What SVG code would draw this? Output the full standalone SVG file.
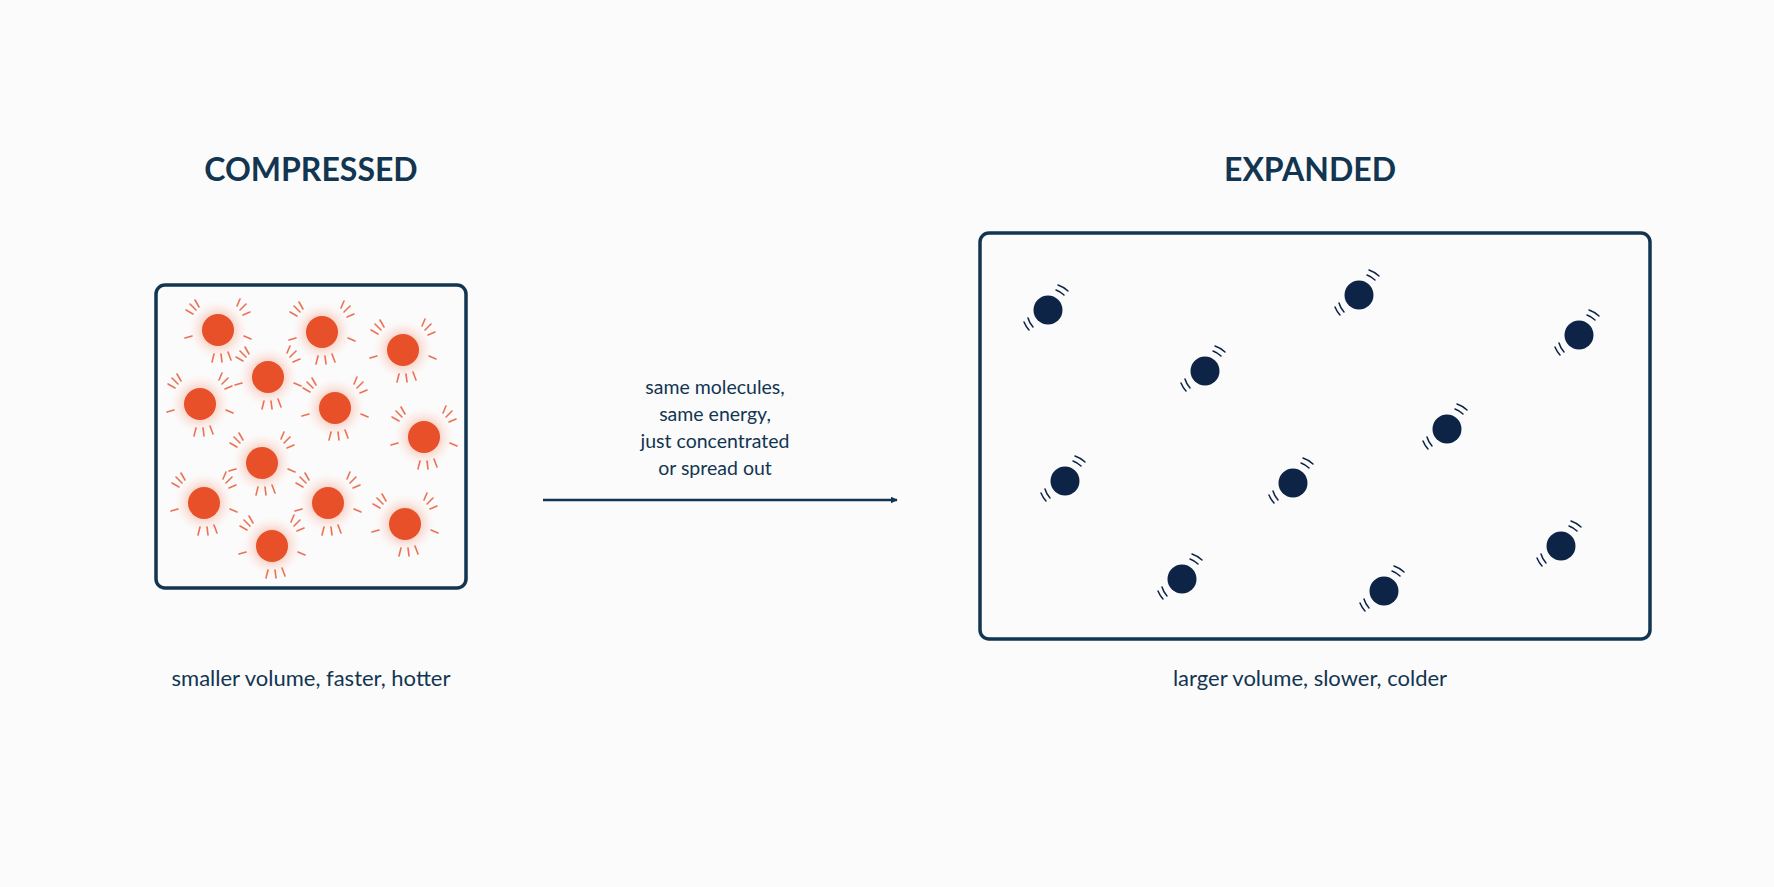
<svg xmlns="http://www.w3.org/2000/svg" xmlns:xlink="http://www.w3.org/1999/xlink" width="1774" height="887" viewBox="0 0 1774 887">
<style>
.t{font-family:"Lato","Liberation Sans",sans-serif;fill:#123552;text-anchor:middle}
.h{font-size:32px;font-weight:bold}
.s{font-size:22px}
.m{font-size:19.5px}
.box{fill:none;stroke:#123552;stroke-width:3.5}
.ray{stroke:#e8502a;stroke-width:1.6;stroke-linecap:round;opacity:.8}
.arc{fill:none;stroke:#0d2447;stroke-width:1.5;stroke-linecap:round}
</style>
<defs>
<radialGradient id="glow"><stop offset="0.45" stop-color="#f6b5a2" stop-opacity=".7"/><stop offset="1" stop-color="#fde9e3" stop-opacity="0"/></radialGradient>
<g id="red">
<circle r="30" fill="url(#glow)"/>
<g class="ray">
<line x1="-22" y1="-20" x2="-28" y2="-26"/><line x1="-19" y1="-23" x2="-23" y2="-30"/><line x1="-25" y1="-16" x2="-32" y2="-20"/>
<line x1="22" y1="-20" x2="28" y2="-26"/><line x1="25" y1="-15" x2="32" y2="-18"/><line x1="19" y1="-24" x2="22" y2="-31"/>
<line x1="-4" y1="24" x2="-6" y2="32"/><line x1="3" y1="24" x2="4" y2="32"/><line x1="10" y1="22" x2="13" y2="30"/>
<line x1="-26" y1="6" x2="-33" y2="8"/><line x1="26" y1="6" x2="33" y2="9"/>
</g>
<circle r="16" fill="#e8502a"/>
</g>
<g id="blue">
<circle r="14.5" fill="#0d2447"/>
<path class="arc" d="M8,-20 A22,22 0 0 1 16,-15 M10,-25 A27,27 0 0 1 20,-19 M-15,17 A22,22 0 0 1 -20,8 M-19,20 A27,27 0 0 1 -24,12"/>
</g>
<marker id="ah" viewBox="0 0 10 10" refX="9" refY="5" markerWidth="7" markerHeight="7" orient="auto" markerUnits="userSpaceOnUse"><path d="M0,0L10,5L0,10z" fill="#123552"/></marker>
</defs>
<rect width="1774" height="887" fill="#fbfbfb"/>
<g id="compressed">
<text class="t h" x="311" y="181">COMPRESSED</text>
<rect class="box" x="156" y="285" width="310" height="303" rx="9"/>
<use xlink:href="#red" x="218" y="330"/><use xlink:href="#red" x="322" y="332"/><use xlink:href="#red" x="403" y="350"/>
<use xlink:href="#red" x="268" y="377"/><use xlink:href="#red" x="200" y="404"/><use xlink:href="#red" x="335" y="408"/>
<use xlink:href="#red" x="424" y="437"/><use xlink:href="#red" x="262" y="463"/><use xlink:href="#red" x="204" y="503"/>
<use xlink:href="#red" x="328" y="503"/><use xlink:href="#red" x="405" y="524"/><use xlink:href="#red" x="272" y="546"/>
<text class="t s" x="311" y="686">smaller volume, faster, hotter</text>
</g>
<g id="expanded">
<text class="t h" x="1310" y="181">EXPANDED</text>
<rect class="box" x="980" y="233" width="670" height="406" rx="9"/>
<use xlink:href="#blue" x="1048" y="310"/><use xlink:href="#blue" x="1359" y="295"/><use xlink:href="#blue" x="1579" y="335"/>
<use xlink:href="#blue" x="1205" y="371"/><use xlink:href="#blue" x="1447" y="429"/><use xlink:href="#blue" x="1065" y="481"/>
<use xlink:href="#blue" x="1293" y="483"/><use xlink:href="#blue" x="1561" y="546"/><use xlink:href="#blue" x="1182" y="579"/>
<use xlink:href="#blue" x="1384" y="591"/>
<text class="t s" x="1310" y="686">larger volume, slower, colder</text>
</g>
<g id="connectors">
<line x1="543" y1="500" x2="897" y2="500" stroke="#123552" stroke-width="2.5" marker-end="url(#ah)"/>
<text class="t m" x="715" y="394">same molecules,</text>
<text class="t m" x="715" y="421">same energy,</text>
<text class="t m" x="715" y="448">just concentrated</text>
<text class="t m" x="715" y="475">or spread out</text>
</g>
</svg>
